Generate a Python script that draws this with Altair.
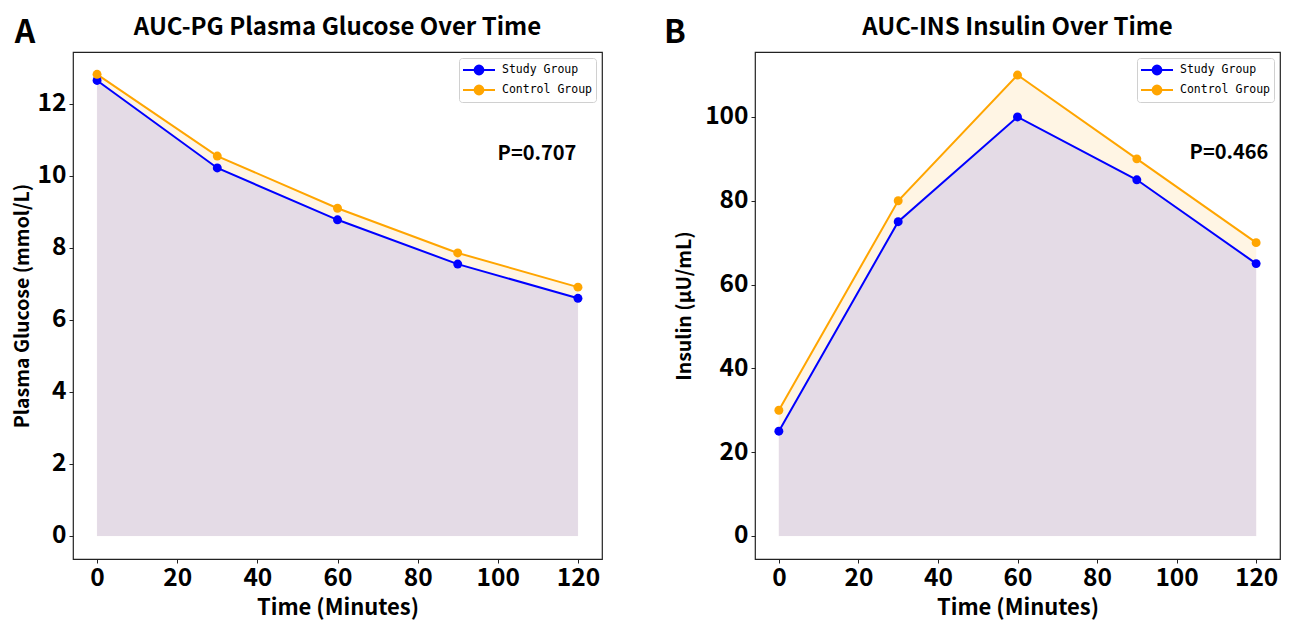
import altair as alt
import pandas as pd

# ---- data ----
time_min = [0, 30, 60, 90, 120]
groups = ["Study Group", "Control Group"]
pg_study = [12.65, 10.22, 8.78, 7.55, 6.6]
pg_control = [12.82, 10.55, 9.1, 7.86, 6.91]
ins_study = [25, 75, 100, 85, 65]
ins_control = [30, 80, 110, 90, 70]
x_ticks = [0, 20, 40, 60, 80, 100, 120]
pg_ticks = [0, 2, 4, 6, 8, 10, 12]
ins_ticks = [0, 20, 40, 60, 80, 100]
p_values = ["P=0.707", "P=0.466"]
panel_letters = ["A", "B"]
titles = ["AUC-PG Plasma Glucose Over Time", "AUC-INS Insulin Over Time"]
y_titles = ["Plasma Glucose (mmol/L)", "Insulin (\u03bcU/mL)"]

colors = ["#0000FF", "#FFA500"]
FONT = "Noto Sans CJK SC"
MONO = "DejaVu Sans Mono"

LEGEND_PATH = "M-1,0L3,0M1.55,0A0.55,0.55,0,1,1,0.45,0A0.55,0.55,0,1,1,1.55,0Z"


def long_df(study, control):
    rows = []
    for t, s in zip(time_min, study):
        rows.append({"time": t, "value": s, "group": groups[0]})
    for t, c in zip(time_min, control):
        rows.append({"time": t, "value": c, "group": groups[1]})
    return pd.DataFrame(rows)


def panel(study, control, ydomain, yticks, idx, width, p_x, p_y, letter_x, ytitle_pad):
    df = long_df(study, control)
    color_scale = alt.Scale(domain=groups, range=colors)
    x = alt.X("time:Q", scale=alt.Scale(domain=[-6, 126], nice=False, zero=False),
              axis=alt.Axis(values=x_ticks, title="Time (Minutes)"))
    y = alt.Y("value:Q", stack=None,
              scale=alt.Scale(domain=ydomain, nice=False, zero=False),
              axis=alt.Axis(values=yticks, title=y_titles[idx], titlePadding=ytitle_pad))
    base = alt.Chart(df).encode(x=x, y=y)

    area_c = base.transform_filter(alt.datum.group == groups[1]).mark_area(
        color=colors[1], opacity=0.1, stroke=colors[1], strokeOpacity=0.12, strokeWidth=1)
    area_s = base.transform_filter(alt.datum.group == groups[0]).mark_area(
        color=colors[0], opacity=0.1, stroke=colors[0], strokeOpacity=0.08, strokeWidth=1)

    legend = alt.Legend(
        orient="top-right", title=None, offset=6,
        symbolType=LEGEND_PATH, symbolSize=256, symbolStrokeWidth=2,
        symbolOpacity=1,
        labelFont=MONO, labelFontSize=11.5, labelColor="black", labelOffset=22,
        rowPadding=2, padding=3, strokeColor="#d0d0d0", fillColor="white",
        cornerRadius=3,
    )
    color = alt.Color("group:N", scale=color_scale, sort=groups, legend=legend)

    lines = base.mark_line(strokeWidth=2).encode(color=color)
    points = base.mark_point(filled=True, size=80, opacity=1).encode(color=color)

    ptext = alt.Chart(pd.DataFrame({"t": [p_values[idx]]})).mark_text(
        font=FONT, fontWeight="bold", fontSize=20, color="black", align="center",
        baseline="middle").encode(text="t:N", x=alt.value(p_x), y=alt.value(p_y))
    letter = alt.Chart(pd.DataFrame({"t": [panel_letters[idx]]})).mark_text(
        font=FONT, fontWeight="bold", fontSize=32, color="black", align="center",
        baseline="alphabetic").encode(text="t:N", x=alt.value(letter_x), y=alt.value(-9))
    title = alt.Chart(pd.DataFrame({"t": [titles[idx]]})).mark_text(
        font=FONT, fontWeight="bold", fontSize=24, color="black", align="center",
        baseline="alphabetic").encode(text="t:N", x=alt.value(width / 2), y=alt.value(-17))

    return alt.layer(area_c, area_s, lines, points, ptext, letter, title).properties(
        width=width, height=507,
    )


pa = panel(pg_study, pg_control, [-0.64, 13.44], pg_ticks, 0, 529, 464, 102, -48, 5)
pb = panel(ins_study, ins_control, [-5.5, 115.5], ins_ticks, 1, 525, 474, 101, -80, 10)

chart = alt.hconcat(pa, pb, spacing=60).resolve_scale(color="independent").properties(
    padding={"left": 3, "top": 7, "right": 0, "bottom": 0},
    background="white",
).configure_view(stroke="#222222", strokeWidth=1.2).configure_axis(
    domain=False, grid=False,
    labelFont=FONT, labelFontSize=24.5, labelFontWeight="bold", labelColor="black",
    tickColor="#222222", tickSize=4, tickWidth=1,
    titleFont=FONT, titleFontWeight="bold", titleColor="black",
).configure_axisX(labelPadding=3, titlePadding=8, titleFontSize=22).configure_axisY(
    labelPadding=3, titleFontSize=19.5)

chart.save("out.html", embed_options={"renderer": "svg", "actions": False})
